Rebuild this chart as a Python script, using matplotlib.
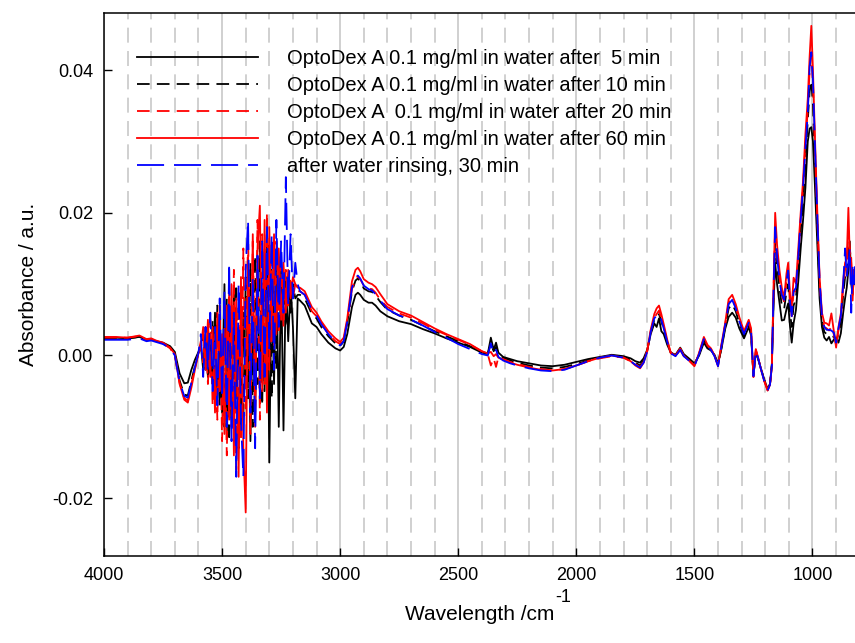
import matplotlib
matplotlib.use("Agg")
import matplotlib.pyplot as plt
from matplotlib.ticker import MultipleLocator, FormatStrFormatter

plt.rcParams['font.family'] = ['Liberation Sans', 'DejaVu Sans']

# wavenumber grid (cm-1): edge, water-vapour region, fingerprint region
wavenumber = [
    4000, 3950, 3900, 3850, 3820, 3800, 3780, 3750, 3720, 3700, 3680, 3660, 3645, 3630, 3615, 3600,
    3590, 3580, 3570, 3560, 3550, 3540, 3530, 3520, 3510, 3500,
    3490, 3480, 3470, 3460, 3450, 3440, 3430, 3420, 3410, 3400,
    3390, 3380, 3370, 3360, 3350, 3340, 3330, 3320, 3310, 3300,
    3290, 3280, 3270, 3260, 3250, 3240, 3230, 3220, 3210, 3200, 3190, 3180,
    3170, 3150, 3120, 3100, 3080, 3050, 3020, 3000, 2985, 2970,
    2950, 2935, 2925, 2915, 2900, 2880, 2865, 2850, 2830, 2800,
    2750, 2700, 2650, 2600, 2550, 2500, 2450, 2400, 2375, 2362,
    2350, 2340, 2330, 2310, 2280, 2250, 2200, 2150, 2100, 2050,
    2000, 1950, 1900, 1850, 1800, 1770, 1750, 1730, 1715, 1700,
    1685, 1670, 1660, 1650, 1640, 1630, 1615, 1600, 1580, 1560,
    1545, 1520, 1500, 1480, 1460, 1445, 1430, 1415, 1400, 1385,
    1370, 1355, 1340, 1325, 1310, 1290, 1270, 1260, 1250, 1240,
    1230, 1220, 1205, 1190, 1180, 1172, 1165, 1158, 1150, 1140,
    1130, 1120, 1110, 1103, 1095, 1088, 1080, 1070, 1060, 1050,
    1040, 1030, 1020, 1012, 1005, 998, 990, 980, 970, 960,
    950, 940, 930, 920, 910, 900, 890, 880, 870, 862,
    855, 848, 842, 836, 830, 825, 820,
]

abs_5min = [
    0.0025, 0.0025, 0.0024, 0.0026, 0.0022, 0.0023, 0.0020, 0.0018, 0.0013, 0.0005, -0.0025, -0.0039, -0.0038, -0.0020, -0.0006, 0.0005,
    0.0015, -0.0020, 0.0030, -0.0030, 0.0020, -0.0040, 0.0060, -0.0060, 0.0030, -0.0080,
    0.0100, -0.0110, 0.0040, -0.0090, 0.0090, -0.0060, 0.0030, -0.0100, 0.0060, -0.0040,
    0.0090, -0.0120, 0.0050, -0.0080, 0.0120, -0.0050, 0.0080, -0.0050, 0.0170, -0.0150,
    0.0120, -0.0040, 0.0140, -0.0100, 0.0120, -0.0105, 0.0110, 0.0020, 0.0100, 0.0040, -0.0060, 0.0080,
    0.0077, 0.0070, 0.0045, 0.0040, 0.0030, 0.0018, 0.0010, 0.0007, 0.0012, 0.0030,
    0.0068, 0.0085, 0.0088, 0.0085, 0.0078, 0.0074, 0.0074, 0.0070, 0.0062, 0.0055,
    0.0048, 0.0044, 0.0037, 0.0031, 0.0024, 0.0018, 0.0012, 0.0004, 0.0002, 0.0025,
    0.0008, 0.0018, 0.0004, -0.0002, -0.0005, -0.0008, -0.0011, -0.0014, -0.0015, -0.0013,
    -0.0009, -0.0005, -0.0002, 0.0001, -0.0001, -0.0004, -0.0008, -0.0010, -0.0004, 0.0008,
    0.0030, 0.0045, 0.0040, 0.0052, 0.0034, 0.0030, 0.0015, 0.0004, 0.0001, 0.0011,
    0.0002, -0.0005, -0.0011, 0.0000, 0.0018, 0.0010, 0.0007, 0.0001, -0.0011, 0.0010,
    0.0037, 0.0054, 0.0060, 0.0053, 0.0038, 0.0024, 0.0040, 0.0028, -0.0028, 0.0005,
    -0.0005, -0.0016, -0.0033, -0.0047, -0.0040, -0.0012, 0.0070, 0.0130, 0.0100, 0.0075,
    0.0049, 0.0050, 0.0065, 0.0073, 0.0040, 0.0018, 0.0045, 0.0064, 0.0105, 0.0150,
    0.0190, 0.0235, 0.0300, 0.0318, 0.0320, 0.0300, 0.0240, 0.0160, 0.0080, 0.0040,
    0.0025, 0.0021, 0.0026, 0.0017, 0.0022, 0.0025, 0.0018, 0.0031, 0.0060, 0.0080,
    0.0095, 0.0120, 0.0160, 0.0100, 0.0085, 0.0110, 0.0100,
]

abs_10min = [
    0.0024, 0.0024, 0.0024, 0.0026, 0.0022, 0.0023, 0.0020, 0.0017, 0.0011, 0.0002, -0.0035, -0.0055, -0.0056, -0.0035, -0.0015, 0.0004,
    0.0010, 0.0030, -0.0020, 0.0040, -0.0030, 0.0050, -0.0050, 0.0070, -0.0070, 0.0020,
    -0.0100, 0.0080, -0.0120, 0.0060, -0.0080, 0.0100, -0.0130, 0.0040, -0.0090, 0.0110,
    -0.0060, 0.0130, -0.0100, 0.0140, -0.0040, 0.0160, -0.0070, 0.0150, 0.0000, 0.0160,
    -0.0060, 0.0130, -0.0020, 0.0140, 0.0030, 0.0120, 0.0040, 0.0110, 0.0060, 0.0100, 0.0080, 0.0085,
    0.0085, 0.0080, 0.0058, 0.0052, 0.0040, 0.0027, 0.0017, 0.0013, 0.0020, 0.0045,
    0.0090, 0.0105, 0.0108, 0.0104, 0.0094, 0.0090, 0.0089, 0.0084, 0.0075, 0.0064,
    0.0056, 0.0050, 0.0042, 0.0034, 0.0027, 0.0020, 0.0013, 0.0005, 0.0003, 0.0016,
    0.0006, 0.0012, 0.0002, -0.0003, -0.0007, -0.0010, -0.0014, -0.0017, -0.0018, -0.0016,
    -0.0012, -0.0007, -0.0003, 0.0000, -0.0002, -0.0006, -0.0010, -0.0014, -0.0007, 0.0006,
    0.0032, 0.0050, 0.0052, 0.0058, 0.0048, 0.0036, 0.0018, 0.0004, 0.0000, 0.0009,
    0.0000, -0.0007, -0.0013, 0.0002, 0.0022, 0.0013, 0.0008, 0.0000, -0.0013, 0.0012,
    0.0040, 0.0066, 0.0072, 0.0062, 0.0045, 0.0028, 0.0044, 0.0031, -0.0028, 0.0006,
    -0.0005, -0.0016, -0.0034, -0.0048, -0.0040, -0.0013, 0.0082, 0.0160, 0.0125, 0.0095,
    0.0070, 0.0065, 0.0090, 0.0100, 0.0060, 0.0040, 0.0070, 0.0080, 0.0125, 0.0175,
    0.0215, 0.0270, 0.0330, 0.0370, 0.0385, 0.0350, 0.0275, 0.0180, 0.0095, 0.0050,
    0.0033, 0.0030, 0.0030, 0.0028, 0.0026, 0.0020, 0.0030, 0.0045, 0.0085, 0.0110,
    0.0105, 0.0150, 0.0140, 0.0120, 0.0095, 0.0120, 0.0110,
]

abs_20min = [
    0.0025, 0.0025, 0.0025, 0.0027, 0.0022, 0.0023, 0.0020, 0.0017, 0.0010, 0.0000, -0.0038, -0.0060, -0.0063, -0.0040, -0.0018, 0.0004,
    0.0020, -0.0010, 0.0040, -0.0040, 0.0050, -0.0070, 0.0030, -0.0090, 0.0070, -0.0120,
    0.0040, -0.0140, 0.0090, -0.0100, 0.0120, -0.0160, 0.0060, -0.0120, 0.0150, -0.0080,
    0.0180, -0.0110, 0.0160, -0.0060, 0.0190, -0.0090, 0.0170, -0.0040, 0.0200, -0.0020,
    0.0150, 0.0010, 0.0160, 0.0030, 0.0130, 0.0040, 0.0120, 0.0070, 0.0110, 0.0080, 0.0100, 0.0090,
    0.0090, 0.0085, 0.0062, 0.0055, 0.0045, 0.0030, 0.0020, 0.0016, 0.0022, 0.0048,
    0.0093, 0.0108, 0.0111, 0.0107, 0.0098, 0.0094, 0.0093, 0.0088, 0.0078, 0.0068,
    0.0059, 0.0053, 0.0045, 0.0036, 0.0029, 0.0022, 0.0015, 0.0006, 0.0002, -0.0014,
    -0.0004, -0.0016, -0.0002, -0.0005, -0.0009, -0.0012, -0.0016, -0.0019, -0.0021, -0.0019,
    -0.0014, -0.0008, -0.0004, -0.0001, -0.0003, -0.0008, -0.0012, -0.0016, -0.0009, 0.0006,
    0.0034, 0.0053, 0.0058, 0.0063, 0.0052, 0.0040, 0.0020, 0.0003, -0.0001, 0.0008,
    -0.0001, -0.0008, -0.0014, 0.0003, 0.0024, 0.0014, 0.0009, 0.0000, -0.0014, 0.0015,
    0.0043, 0.0074, 0.0080, 0.0068, 0.0050, 0.0031, 0.0047, 0.0035, -0.0030, 0.0008,
    -0.0004, -0.0017, -0.0035, -0.0049, -0.0041, -0.0015, 0.0090, 0.0180, 0.0140, 0.0110,
    0.0085, 0.0075, 0.0105, 0.0115, 0.0075, 0.0055, 0.0090, 0.0090, 0.0140, 0.0190,
    0.0235, 0.0295, 0.0345, 0.0400, 0.0420, 0.0380, 0.0295, 0.0195, 0.0105, 0.0055,
    0.0040, 0.0038, 0.0035, 0.0040, 0.0030, 0.0015, 0.0035, 0.0052, 0.0095, 0.0120,
    0.0125, 0.0175, 0.0150, 0.0130, 0.0090, 0.0115, 0.0105,
]

abs_60min = [
    0.0026, 0.0026, 0.0025, 0.0028, 0.0023, 0.0024, 0.0021, 0.0018, 0.0011, 0.0002, -0.0040, -0.0062, -0.0066, -0.0045, -0.0020, 0.0003,
    0.0010, 0.0040, -0.0020, 0.0050, -0.0030, 0.0040, -0.0080, 0.0060, -0.0050, 0.0030,
    -0.0110, 0.0070, -0.0090, 0.0100, -0.0140, 0.0080, -0.0170, 0.0110, -0.0130, -0.0220,
    0.0140, -0.0070, 0.0170, -0.0100, 0.0150, 0.0210, -0.0050, 0.0190, -0.0080, 0.0180,
    0.0020, 0.0170, 0.0030, 0.0150, 0.0050, 0.0130, 0.0060, 0.0120, 0.0080, 0.0110, 0.0100, 0.0095,
    0.0095, 0.0090, 0.0068, 0.0060, 0.0048, 0.0034, 0.0024, 0.0019, 0.0025, 0.0052,
    0.0104, 0.0120, 0.0123, 0.0118, 0.0107, 0.0102, 0.0100, 0.0096, 0.0086, 0.0072,
    0.0062, 0.0056, 0.0047, 0.0038, 0.0030, 0.0023, 0.0016, 0.0006, 0.0003, 0.0005,
    -0.0001, 0.0002, -0.0003, -0.0006, -0.0010, -0.0013, -0.0017, -0.0020, -0.0021, -0.0019,
    -0.0014, -0.0008, -0.0003, 0.0000, -0.0003, -0.0008, -0.0014, -0.0018, -0.0010, 0.0007,
    0.0036, 0.0058, 0.0066, 0.0070, 0.0058, 0.0044, 0.0022, 0.0004, 0.0000, 0.0010,
    0.0000, -0.0008, -0.0015, 0.0004, 0.0026, 0.0015, 0.0010, 0.0000, -0.0015, 0.0017,
    0.0045, 0.0079, 0.0085, 0.0072, 0.0054, 0.0034, 0.0050, 0.0038, -0.0030, 0.0009,
    -0.0003, -0.0017, -0.0035, -0.0049, -0.0041, -0.0015, 0.0095, 0.0200, 0.0155, 0.0120,
    0.0095, 0.0081, 0.0115, 0.0130, 0.0085, 0.0067, 0.0109, 0.0101, 0.0151, 0.0200,
    0.0245, 0.0310, 0.0360, 0.0420, 0.0462, 0.0400, 0.0310, 0.0205, 0.0110, 0.0060,
    0.0046, 0.0045, 0.0042, 0.0059, 0.0035, 0.0011, 0.0040, 0.0059, 0.0105, 0.0130,
    0.0135, 0.0207, 0.0137, 0.0137, 0.0077, 0.0120, 0.0101,
]

abs_rinse = [
    0.0022, 0.0022, 0.0022, 0.0024, 0.0020, 0.0021, 0.0019, 0.0016, 0.0010, 0.0000, -0.0037, -0.0057, -0.0059, -0.0038, -0.0016, 0.0004,
    0.0030, -0.0030, 0.0040, -0.0020, 0.0060, -0.0050, 0.0040, -0.0070, 0.0080, -0.0060,
    0.0090, -0.0100, 0.0130, -0.0120, 0.0060, -0.0170, 0.0100, -0.0090, -0.0170, 0.0120,
    0.0190, -0.0080, 0.0110, -0.0130, 0.0140, -0.0060, 0.0160, -0.0030, 0.0180, 0.0010,
    0.0170, -0.0020, 0.0190, 0.0040, 0.0160, 0.0060, 0.0250, 0.0070, 0.0170, 0.0080, 0.0130, 0.0100,
    0.0090, 0.0085, 0.0064, 0.0056, 0.0044, 0.0030, 0.0019, 0.0014, 0.0020, 0.0047,
    0.0095, 0.0110, 0.0112, 0.0108, 0.0098, 0.0093, 0.0091, 0.0086, 0.0077, 0.0065,
    0.0056, 0.0050, 0.0042, 0.0033, 0.0025, 0.0016, 0.0009, 0.0002, 0.0000, 0.0017,
    0.0002, 0.0008, -0.0002, -0.0007, -0.0011, -0.0014, -0.0018, -0.0021, -0.0022, -0.0020,
    -0.0014, -0.0008, -0.0003, 0.0000, -0.0003, -0.0008, -0.0013, -0.0017, -0.0010, 0.0005,
    0.0033, 0.0052, 0.0056, 0.0059, 0.0050, 0.0038, 0.0019, 0.0003, -0.0001, 0.0008,
    -0.0001, -0.0008, -0.0015, 0.0002, 0.0023, 0.0013, 0.0008, -0.0001, -0.0015, 0.0014,
    0.0042, 0.0072, 0.0078, 0.0066, 0.0048, 0.0030, 0.0046, 0.0034, -0.0029, 0.0007,
    -0.0004, -0.0017, -0.0035, -0.0049, -0.0041, -0.0014, 0.0088, 0.0180, 0.0140, 0.0105,
    0.0085, 0.0078, 0.0105, 0.0119, 0.0075, 0.0055, 0.0090, 0.0095, 0.0140, 0.0190,
    0.0235, 0.0290, 0.0340, 0.0405, 0.0425, 0.0385, 0.0300, 0.0200, 0.0105, 0.0055,
    0.0040, 0.0036, 0.0036, 0.0035, 0.0032, 0.0018, 0.0038, 0.0055, 0.0100, 0.0150,
    0.0110, 0.0130, 0.0150, 0.0060, 0.0125, 0.0100, 0.0125,
]

labels = [
    "OptoDex A 0.1 mg/ml in water after  5 min",
    "OptoDex A 0.1 mg/ml in water after 10 min",
    "OptoDex A  0.1 mg/ml in water after 20 min",
    "OptoDex A 0.1 mg/ml in water after 60 min",
    "after water rinsing, 30 min",
]

fig = plt.figure(figsize=(8.55, 6.43), dpi=100)
ax = fig.add_axes([104 / 855, 87 / 643, 751 / 855, 543 / 643])

lw = 1.3
ax.plot(wavenumber, abs_5min, color="black", lw=lw, label=labels[0])
ax.plot(wavenumber, abs_10min, color="black", lw=lw, ls=(0, (7, 4)), label=labels[1])
ax.plot(wavenumber, abs_20min, color="red", lw=lw, ls=(0, (7, 4)), label=labels[2])
ax.plot(wavenumber, abs_60min, color="red", lw=lw, label=labels[3])
ax.plot(wavenumber, abs_rinse, color="blue", lw=lw, ls=(0, (15, 5.5)), label=labels[4])

ax.set_xlim(4000, 820)
ax.set_ylim(-0.0281, 0.0480)
ax.xaxis.set_major_locator(MultipleLocator(500))
ax.xaxis.set_minor_locator(MultipleLocator(100))
ax.set_yticks([-0.02, 0.0, 0.02, 0.04])
ax.yaxis.set_major_formatter(FormatStrFormatter('%.2f'))

ax.grid(which='major', axis='x', color='#c8c8c8', lw=1.2, ls='-')
ax.grid(which='minor', axis='x', color='#c8c8c8', lw=1.2, ls=(0, (9, 5)))
ax.set_axisbelow(True)

ax.tick_params(which='major', direction='in', length=6, width=1, labelsize=13,
               top=False, right=False)
ax.tick_params(axis='x', which='major', pad=8)
ax.tick_params(axis='y', which='major', pad=8)
ax.tick_params(which='minor', length=0)
for s in ['left', 'bottom', 'top']:
    ax.spines[s].set_linewidth(1.1)
ax.spines['right'].set_visible(False)

ax.set_xlabel("Wavelength /cm", fontsize=15, labelpad=15)
ax.set_ylabel("Absorbance / a.u.", fontsize=15, labelpad=10)

ax.legend(loc='upper left', bbox_to_anchor=(0.044, 0.934), frameon=False,
          fontsize=14.5, handlelength=6.0, handletextpad=1.45,
          labelspacing=0.4, borderpad=0, borderaxespad=0)

# superscript "-1" placed just after the x label
fig.canvas.draw()
bb = ax.xaxis.label.get_window_extent()
fig.text(bb.x1 / fig.bbox.width + 0.001, (bb.y1 - 1) / fig.bbox.height, "-1",
         fontsize=13, ha='left', va='bottom')

fig.savefig("out.png", dpi=100)
